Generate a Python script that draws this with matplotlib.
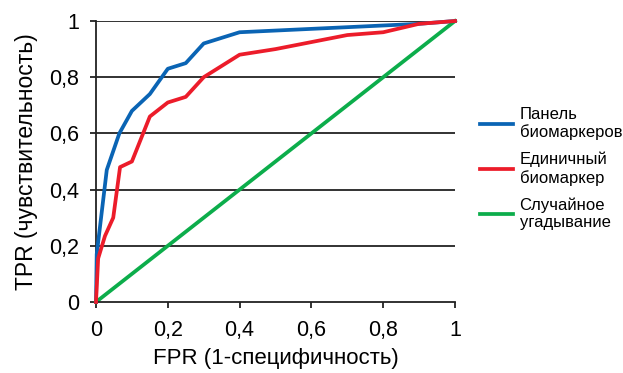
import matplotlib.pyplot as plt

plt.rcParams['font.family'] = ['Liberation Sans', 'DejaVu Sans']

# data
panel_fpr = [0, 0.002, 0.03, 0.065, 0.1, 0.15, 0.2, 0.25, 0.3, 0.4, 0.9, 1]
panel_tpr = [0, 0.17, 0.47, 0.6, 0.68, 0.74, 0.83, 0.85, 0.92, 0.96, 0.99, 1]

single_fpr = [0, 0.006, 0.025, 0.048, 0.067, 0.1, 0.15, 0.2, 0.25, 0.3, 0.4, 0.5, 0.7, 0.8, 0.9, 1]
single_tpr = [0, 0.155, 0.235, 0.30, 0.48, 0.5, 0.66, 0.71, 0.73, 0.8, 0.88, 0.9, 0.95, 0.96, 0.99, 1]

random_fpr = [0, 1]
random_tpr = [0, 1]

labels = ['Панель\nбиомаркеров', 'Единичный\nбиомаркер', 'Случайное\nугадывание']
colors = ['#0a64b4', '#ec1c2a', '#0cad4b']

ticks = [0, 0.2, 0.4, 0.6, 0.8, 1]
tick_labels = ['0', '0,2', '0,4', '0,6', '0,8', '1']

fig = plt.figure(figsize=(6.23, 3.73), dpi=100)
ax = fig.add_axes([96 / 623, 1 - 302 / 373, (455 - 96) / 623, (302 - 21) / 373])

for y in ticks[1:]:
    ax.axhline(y, color='#222222', lw=1.3, zorder=1)

ax.plot(panel_fpr, panel_tpr, color=colors[0], lw=2.7, label=labels[0], clip_on=False, zorder=3)
ax.plot(single_fpr, single_tpr, color=colors[1], lw=2.7, label=labels[1], clip_on=False, zorder=3)
ax.plot(random_fpr, random_tpr, color=colors[2], lw=2.7, label=labels[2], clip_on=False, zorder=2)

ax.set_xlim(0, 1)
ax.set_ylim(0, 1)
ax.set_xticks(ticks)
ax.set_xticklabels(tick_labels)
ax.set_yticks(ticks)
ax.set_yticklabels(tick_labels)
ax.tick_params(axis='both', labelsize=15.5, length=4, width=1.3, color='#222222')
ax.tick_params(axis='x', pad=9)
ax.tick_params(axis='y', pad=8)

for side in ['top', 'right']:
    ax.spines[side].set_visible(False)
for side in ['left', 'bottom']:
    ax.spines[side].set_linewidth(1.3)
    ax.spines[side].set_color('#222222')

ax.set_xlabel('FPR (1-специфичность)', fontsize=16, labelpad=5)
ax.set_ylabel('TPR (чувствительность)', fontsize=16.5, labelpad=8)

ax.legend(loc='center left', bbox_to_anchor=(1.05, 0.475), frameon=False, fontsize=12,
          handlelength=2.0, handletextpad=0.4, labelspacing=0.68, borderaxespad=0)

fig.savefig('out.png', dpi=100)
